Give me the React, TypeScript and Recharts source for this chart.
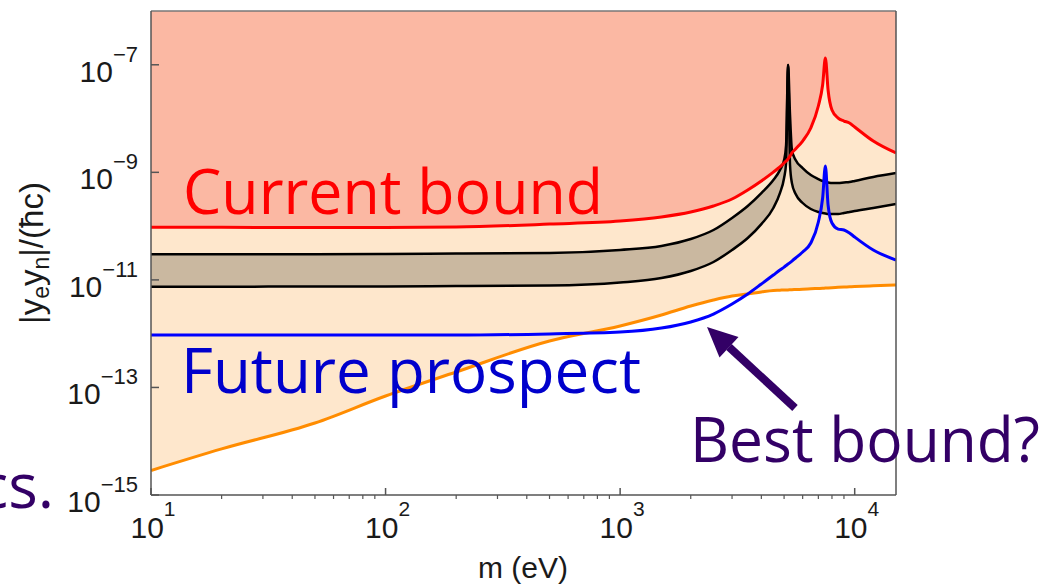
import { ComposedChart, Area, Line, XAxis, YAxis, ReferenceLine } from "recharts";

// mass grid (eV), shared by all curves
const masses = [
  10, 20, 50, 100, 200, 500, 1000, 1500, 2000, 2500, 3000, 3500, 4000, 4500, 4800, 5000, 5100,
  5200, 5300, 5400, 5600, 6000, 6500, 7000, 7300, 7500, 7700, 8000, 8500, 9000, 9500, 10000,
  12000, 15000,
];

// red: current bound
const currentBound = [
  9.5e-11, 9.5e-11, 9.4e-11, 9.4e-11, 9.6e-11, 1.09e-10, 1.24e-10, 1.48e-10, 1.83e-10, 2.37e-10,
  3.19e-10, 4.69e-10, 6.9e-10, 1.01e-9, 1.26e-9, 1.49e-9, 1.62e-9, 1.77e-9, 2.01e-9, 2.29e-9,
  2.72e-9, 3.82e-9, 6.67e-9, 1.71e-8, 4.2e-8, 1.34e-7, 3.4e-8, 1.44e-8, 1.02e-8, 9.0e-9, 8.26e-9,
  6.97e-9, 3.82e-9, 2.29e-9,
];

// blue: future prospect
const futureProspect = [
  9.4e-13, 9.4e-13, 9.4e-13, 9.4e-13, 9.4e-13, 9.9e-13, 1.07e-12, 1.27e-12, 1.65e-12, 2.32e-12,
  3.56e-12, 5.46e-12, 8.37e-12, 1.23e-11, 1.53e-11, 1.73e-11, 1.85e-11, 1.97e-11, 2.1e-11,
  2.24e-11, 2.55e-11, 3.3e-11, 4.85e-11, 1.19e-10, 3.33e-10, 1.31e-9, 2.47e-10, 1.14e-10, 8.8e-11,
  8.45e-11, 7.45e-11, 6.27e-11, 3.6e-11, 2.34e-11,
];

// orange: lower edge of the shaded region
const orangeLimit = [
  2.86e-15, 7.2e-15, 2.18e-14, 6.94e-14, 1.94e-13, 7.3e-13, 1.39e-12, 2.22e-12, 3.27e-12, 4.22e-12,
  5.0e-12, 5.46e-12, 5.96e-12, 6.36e-12, 6.43e-12, 6.49e-12, 6.5e-12, 6.52e-12, 6.55e-12, 6.57e-12,
  6.62e-12, 6.7e-12, 6.82e-12, 6.93e-12, 6.99e-12, 7.06e-12, 7.1e-12, 7.15e-12, 7.26e-12, 7.35e-12,
  7.42e-12, 7.5e-12, 7.75e-12, 8.04e-12,
];

// black band, upper and lower edges
const bandHigh = [
  2.99e-11, 3.0e-11, 3.0e-11, 3.03e-11, 3.09e-11, 3.16e-11, 3.6e-11, 4.27e-11, 5.75e-11, 8.46e-11,
  1.42e-10, 2.37e-10, 4.12e-10, 7.2e-10, 1.1e-9, 1.69e-9, 3.22e-9, 9.9e-8, 1.16e-8, 2.6e-9, 1.69e-9,
  1.2e-9, 8.9e-10, 7.5e-10, 6.9e-10, 6.6e-10, 6.47e-10, 6.3e-10, 6.3e-10, 6.47e-10, 6.6e-10,
  6.9e-10, 8.2e-10, 9.7e-10,
];
const bandLow = [
  7.46e-12, 7.46e-12, 7.53e-12, 7.53e-12, 7.69e-12, 7.86e-12, 8.93e-12, 1.08e-11, 1.46e-11,
  2.15e-11, 3.6e-11, 6.0e-11, 1.09e-10, 2.17e-10, 4.12e-10, 7.83e-10, 1.49e-9, 9.9e-8, 1.37e-9,
  6.3e-10, 3.95e-10, 2.69e-10, 2.08e-10, 1.83e-10, 1.75e-10, 1.72e-10, 1.68e-10, 1.68e-10,
  1.68e-10, 1.75e-10, 1.83e-10, 1.91e-10, 2.17e-10, 2.58e-10,
];

const xTicks = [
  10, 20, 30, 40, 50, 60, 70, 80, 90, 100, 200, 300, 400, 500, 600, 700, 800, 900, 1000, 2000,
  3000, 4000, 5000, 6000, 7000, 8000, 9000, 10000,
];
const xMajor = [10, 100, 1000, 10000];
const yTicks = [1e-15, 1e-13, 1e-11, 1e-9, 1e-7];

const Y_TOP = 1e-6;
const X_MAX = 15000;

const PLOT_LEFT = 151;
const PLOT_BOTTOM = 495;
const AXIS = "#555";
const TICK_FONT = "'Liberation Sans', Arial, sans-serif";
const NOTE_FONT = "'Open Sans', 'Noto Sans', sans-serif";

const table = masses.map((m, i) => ({
  m,
  excluded: [currentBound[i], Y_TOP],
  allowed: [orangeLimit[i], currentBound[i]],
  band: [bandLow[i], bandHigh[i]],
  red: currentBound[i],
  blue: futureProspect[i],
  orange: orangeLimit[i],
  hi: bandHigh[i],
  lo: bandLow[i],
}));

function XTick({ x, payload }: any) {
  const v = payload.value;
  if (!xMajor.includes(v)) {
    return <line x1={x} x2={x} y1={PLOT_BOTTOM} y2={PLOT_BOTTOM + 4} stroke={AXIS} strokeWidth={1.2} />;
  }
  const exp = Math.round(Math.log10(v));
  return (
    <g>
      <line x1={x} x2={x} y1={PLOT_BOTTOM} y2={PLOT_BOTTOM - 7} stroke={AXIS} strokeWidth={1.5} />
      <text x={x + 2} y={538} textAnchor="middle" fontFamily={TICK_FONT} fontSize={30} fill="#1a1a1a">
        10
        <tspan dy={-22} fontSize={21}>
          {exp}
        </tspan>
      </text>
    </g>
  );
}

function YTick({ y, payload }: any) {
  const exp = Math.round(Math.log10(payload.value));
  return (
    <g>
      <line x1={PLOT_LEFT} x2={PLOT_LEFT + 8} y1={y} y2={y} stroke={AXIS} strokeWidth={1.5} />
      <text x={138} y={y + 17} textAnchor="end" fontFamily={TICK_FONT} fontSize={30} fill="#1a1a1a">
        10
        <tspan dy={-20} fontSize={22}>
          {"\u2212" + Math.abs(exp)}
        </tspan>
      </text>
    </g>
  );
}

export default function App() {
  return (
    <div style={{ position: "absolute", left: 0, top: 0, width: 1062, height: 585, background: "#fff" }}>
      <ComposedChart width={1062} height={585} data={table} margin={{ top: 11, right: 166, bottom: 0, left: 0 }}>
        <XAxis
          dataKey="m"
          type="number"
          scale="log"
          domain={[10, X_MAX]}
          allowDataOverflow
          ticks={xTicks}
          interval={0}
          height={90}
          tickLine={false}
          axisLine={{ stroke: AXIS, strokeWidth: 1.5 }}
          tick={<XTick />}
        />
        <YAxis
          type="number"
          scale="log"
          domain={[1e-15, Y_TOP]}
          allowDataOverflow
          ticks={yTicks}
          interval={0}
          width={151}
          tickLine={false}
          axisLine={{ stroke: AXIS, strokeWidth: 1.5 }}
          tick={<YTick />}
        />
        <Area dataKey="excluded" type="monotone" fill="#fbb8a3" fillOpacity={1} stroke="none" isAnimationActive={false} />
        <Area dataKey="allowed" type="monotone" fill="#fee7cc" fillOpacity={1} stroke="none" isAnimationActive={false} />
        <Area dataKey="band" type="monotone" fill="#cab8a0" fillOpacity={1} stroke="none" isAnimationActive={false} />
        <Line dataKey="hi" type="monotone" stroke="#000" strokeWidth={2.5} dot={false} activeDot={false} isAnimationActive={false} />
        <Line dataKey="lo" type="monotone" stroke="#000" strokeWidth={2.5} dot={false} activeDot={false} isAnimationActive={false} />
        <Line dataKey="red" type="monotone" stroke="#ff0000" strokeWidth={3} dot={false} activeDot={false} isAnimationActive={false} />
        <Line dataKey="orange" type="monotone" stroke="#ff8c00" strokeWidth={3} dot={false} activeDot={false} isAnimationActive={false} />
        <Line dataKey="blue" type="monotone" stroke="#0000ff" strokeWidth={3} dot={false} activeDot={false} isAnimationActive={false} />
        <ReferenceLine y={Y_TOP} stroke="#777" strokeWidth={1.5} />
        <ReferenceLine x={X_MAX} stroke={AXIS} strokeWidth={1.5} />
      </ComposedChart>

      {/* axis titles and slide annotations */}
      <svg width={1062} height={585} style={{ position: "absolute", left: 0, top: 0, pointerEvents: "none" }}>
        <text x={523} y={578} textAnchor="middle" fontFamily={TICK_FONT} fontSize={30} fill="#1a1a1a">
          m (eV)
        </text>
        <text transform="translate(43,253) rotate(-90)" textAnchor="middle" fontFamily={TICK_FONT} fontSize={33} fill="#1a1a1a">
          |y
          <tspan fontSize={23} dy={6}>e</tspan>
          <tspan dy={-6}>y</tspan>
          <tspan fontSize={23} dy={6}>n</tspan>
          <tspan dy={-6}>|/(ħc)</tspan>
        </text>

        <text x={183} y={214} fontFamily={NOTE_FONT} fontSize={63} fill="#ff0000" textLength={420} lengthAdjust="spacingAndGlyphs">
          Current bound
        </text>
        <text x={181} y={393} fontFamily={NOTE_FONT} fontSize={62} fill="#0000cc" textLength={460} lengthAdjust="spacingAndGlyphs">
          Future prospect
        </text>
        <text x={690} y={462} fontFamily={NOTE_FONT} fontSize={62} fill="#330066" textLength={350} lengthAdjust="spacingAndGlyphs">
          Best bound?
        </text>
        <text x={54} y={508} textAnchor="end" fontFamily={NOTE_FONT} fontSize={62} fill="#330066">
          cs.
        </text>

        <line x1={795} y1={408} x2={729} y2={347} stroke="#330066" strokeWidth={8} />
        <polygon points="707,327 738.5,337 719.5,357.6" fill="#330066" />
      </svg>
    </div>
  );
}
